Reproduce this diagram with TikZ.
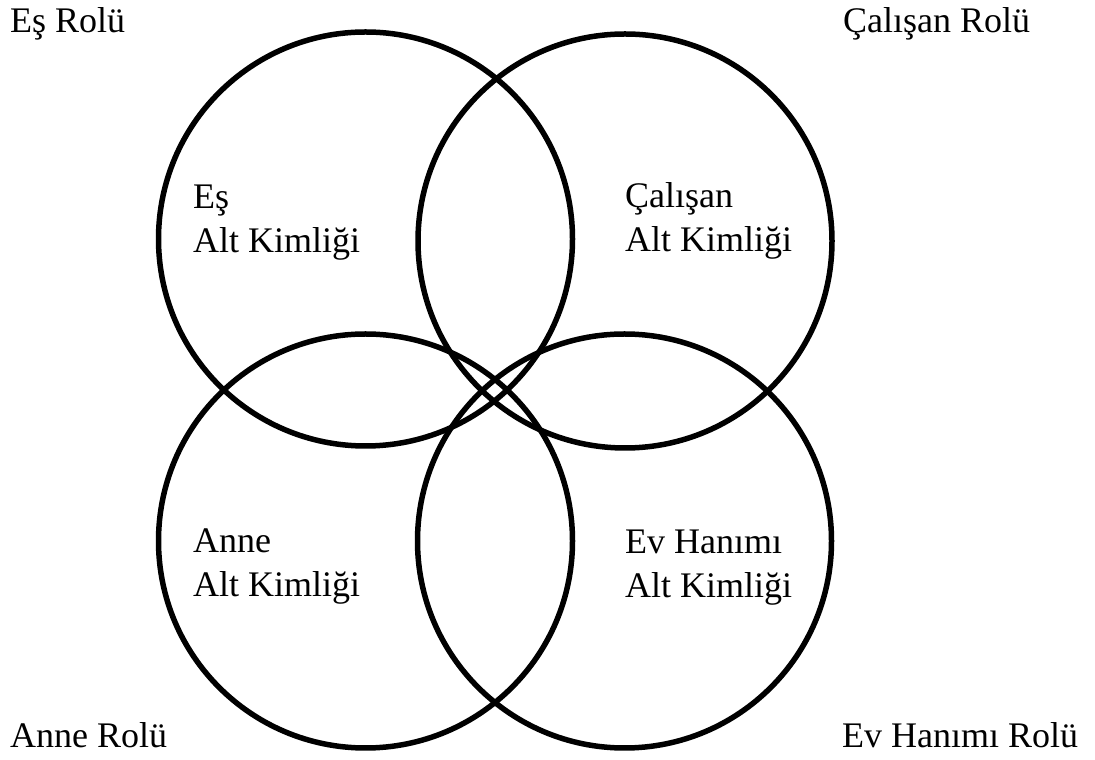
\documentclass[tikz,border=0pt]{standalone}
\usepackage{fontspec}
\setmainfont{Liberation Serif}
\begin{document}
\begin{tikzpicture}[x=1pt,y=1pt,
  ring/.style={draw=black,line width=5.5pt,circle,minimum size=414pt,inner sep=0pt},
  lbl/.style={font=\fontsize{36}{44}\selectfont,inner sep=0pt,anchor=base west,align=left}]
\useasboundingbox (0,0) rectangle (1095,760);
\node[ring] (es) at (365.5,521) {};
\node[ring] (cal) at (625,519) {};
\node[ring] (anne) at (365.5,219) {};
\node[ring] (ev) at (624.5,219) {};
\node[lbl] (esin) at (193,507) {Eş\\Alt Kimliği};
\node[lbl] (calin) at (625,508) {Çalışan\\Alt Kimliği};
\node[lbl] (annein) at (193,163) {Anne\\Alt Kimliği};
\node[lbl] (evin) at (625,162) {Ev Hanımı\\Alt Kimliği};
\node[lbl] (esr) at (10,727) {Eş Rolü};
\node[lbl] (calr) at (843,727) {Çalışan Rolü};
\node[lbl] (anner) at (10,12) {Anne Rolü};
\node[lbl] (evr) at (842,12) {Ev Hanımı Rolü};
\end{tikzpicture}
\end{document}
